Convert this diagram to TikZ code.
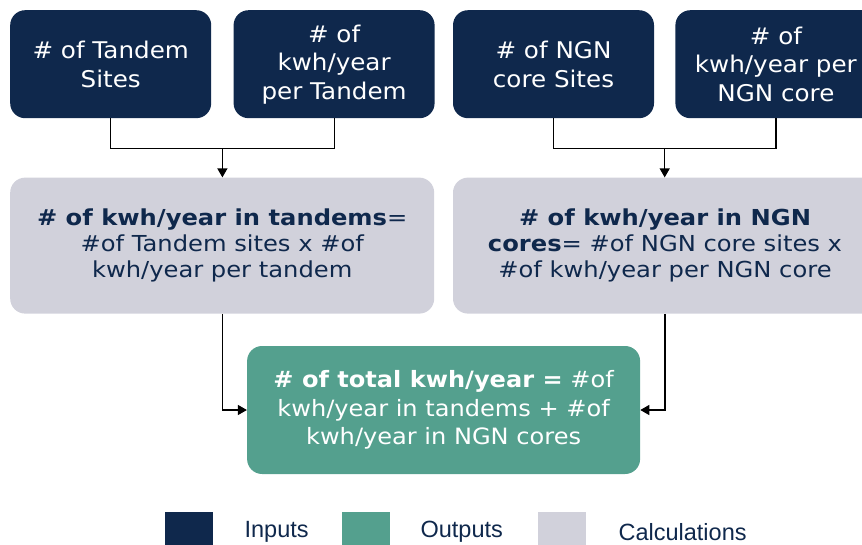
\documentclass[tikz,border=0pt]{standalone}
\usepackage{fontspec}
\setmainfont{DejaVu Sans}
\newfontfamily\legendfont{Liberation Sans}
\newfontfamily\boxfont[FakeStretch=1.07]{DejaVu Sans}
\newfontfamily\calcfont[FakeStretch=1.1]{DejaVu Sans}
\usetikzlibrary{arrows.meta,positioning,calc}

\definecolor{navy}{RGB}{15,40,76}
\definecolor{teal}{RGB}{84,160,142}
\definecolor{calcgray}{RGB}{209,209,219}

\begin{document}
\begin{tikzpicture}[
  >={Triangle[width=10pt,length=9pt]},
  every node/.style={align=center, inner sep=0pt},
  inbox/.style={rectangle, fill=navy, text=white, rounded corners=15pt, minimum width=201pt, minimum height=108pt, font=\boxfont\fontsize{23}{28.5}\selectfont},
  calcbox/.style={rectangle, fill=calcgray, text=navy, rounded corners=15pt, minimum width=424pt, minimum height=136pt, font=\calcfont\fontsize{22}{26}\selectfont},
  outbox/.style={rectangle, fill=teal, text=white, rounded corners=15pt, minimum width=393pt, minimum height=128pt, font=\boxfont\fontsize{22.5}{28.5}\selectfont},
  keybox/.style={rectangle, minimum width=48pt, minimum height=40pt, anchor=north west},
  keytext/.style={text=navy, font=\legendfont\fontsize{23.5}{28}\selectfont},
  link/.style={line width=1.2pt}
]
  \clip (0pt,0pt) rectangle (862pt,-544pt);
  \useasboundingbox (0pt,0pt) rectangle (862pt,-544pt);

  % Inputs (top row)
  \node[inbox, anchor=north west] (tsites) at (10pt,-10pt) {\# of Tandem\\Sites};
  \node[inbox, right=22pt of tsites] (tkwh) {\# of\\kwh/year\\per Tandem};
  \node[inbox, right=18pt of tkwh] (nsites) {\# of NGN\\core Sites};
  \node[inbox, right=21pt of nsites] (nkwh) {\# of\\kwh/year per\\NGN core};

  % Calculations
  \node[calcbox, below right=59pt and 0pt of tsites.south west] (tcalc)
    {\textbf{\# of kwh/year in tandems}=\\\#of Tandem sites x \#of\\kwh/year per tandem};
  \node[calcbox, below right=59pt and 0pt of nsites.south west] (ncalc)
    {\textbf{\# of kwh/year in NGN}\\\textbf{cores}= \#of NGN core sites x\\\#of kwh/year per NGN core};

  % Output
  \node[outbox, anchor=north] (total) at ($(tcalc.south)!0.5!(ncalc.south)+(0,-32pt)$)
    {\textbf{\# of total kwh/year =} \#of\\kwh/year in tandems + \#of\\kwh/year in NGN cores};

  % Connectors: inputs into calculations
  \coordinate (tjoin) at ($(tsites.south)!0.5!(tkwh.south)+(0,-30pt)$);
  \coordinate (njoin) at ($(nsites.south)!0.5!(nkwh.south)+(0,-30pt)$);
  \draw[link] (tsites.south) |- (tjoin) -| (tkwh.south);
  \draw[link] (nsites.south) |- (njoin) -| (nkwh.south);
  \draw[link, ->] (tjoin) -- (tjoin |- tcalc.north);
  \draw[link, ->] (njoin) -- (njoin |- ncalc.north);

  % Connectors: calculations into output
  \draw[link, ->] (tcalc.south) |- (total.west);
  \draw[link, ->] (ncalc.south) |- (total.east);

  % Legend
  \node[keybox, fill=navy] (keyin) at (165pt,-512pt) {};
  \node[keytext, right=31pt of keyin] (keyintxt) {Inputs};
  \node[keybox, fill=teal] (keyout) at (342pt,-512pt) {};
  \node[keytext, right=30pt of keyout] (keyouttxt) {Outputs};
  \node[keybox, fill=calcgray] (keycalc) at (538pt,-512pt) {};
  \node[keytext, right=32pt of keycalc] (keycalctxt) {Calculations};
\end{tikzpicture}
\end{document}
